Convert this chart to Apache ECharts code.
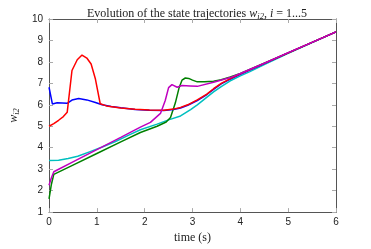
<!DOCTYPE html>
<html><head><meta charset="utf-8">
<script src="https://cdn.jsdelivr.net/npm/echarts@6/dist/echarts.min.js"></script>
<style>html,body{margin:0;padding:0;background:#fff}#c{width:371px;height:249px}</style>
</head><body><div id="c"></div>
<script>
const xTicks = [0,1,2,3,4,5,6];
const yTicks = [1,2,3,4,5,6,7,8,9,10];
const seriesNames = ['w12','w22','w32','w42','w52'];
const redData = [[0,5.0],[0.1,5.12],[0.2,5.28],[0.3,5.45],[0.38,5.65],[0.48,7.6],[0.59,8.1],[0.69,8.32],[0.79,8.18],[0.88,7.9],[0.97,7.2],[1.07,6.05],[1.2,5.95],[1.5,5.85],[1.8,5.79],[2.1,5.76],[2.4,5.75],[2.6,5.8],[2.75,5.88],[2.9,6.0],[3.1,6.23],[3.3,6.5],[3.44,6.75],[3.6,7.0],[3.79,7.22],[4.0,7.44],[4.5,7.93],[5,8.42],[5.5,8.91],[6,9.4]];
const blueData = [[0,6.82],[0.07,6.04],[0.17,6.1],[0.38,6.07],[0.48,6.22],[0.62,6.29],[0.79,6.23],[0.97,6.11],[1.11,6.0],[1.3,5.92],[1.5,5.86],[1.8,5.78],[2.1,5.75],[2.4,5.74],[2.6,5.78],[2.75,5.85],[2.9,5.98],[3.1,6.2],[3.3,6.48],[3.44,6.72],[3.6,6.98],[3.79,7.2],[4.0,7.42],[4.5,7.92],[5,8.42],[5.5,8.91],[6,9.4]];
const greenData = [[0,1.62],[0.05,2.3],[0.1,2.76],[0.5,3.19],[1.0,3.73],[1.5,4.27],[1.91,4.71],[2.26,5.0],[2.45,5.2],[2.54,5.41],[2.64,6.08],[2.72,6.8],[2.78,7.15],[2.85,7.25],[2.92,7.23],[3.0,7.15],[3.1,7.07],[3.25,7.07],[3.44,7.1],[3.6,7.17],[3.79,7.3],[4.0,7.46],[4.5,7.94],[5,8.42],[5.5,8.91],[6,9.4]];
const magentaData = [[0,2.25],[0.05,2.6],[0.1,2.88],[0.5,3.34],[1.0,3.91],[1.5,4.48],[1.91,4.96],[2.12,5.18],[2.33,5.6],[2.43,6.2],[2.5,6.8],[2.57,6.94],[2.68,6.82],[2.78,6.9],[2.95,6.88],[3.1,6.86],[3.44,7.05],[3.79,7.27],[4.0,7.46],[4.5,7.94],[5,8.43],[5.5,8.91],[6,9.4]];
const cyanData = [[0,3.4],[0.2,3.42],[0.4,3.5],[0.6,3.6],[0.86,3.82],[1.1,4.02],[1.39,4.29],[1.7,4.62],[1.91,4.84],[2.26,5.1],[2.5,5.3],[2.75,5.48],[2.96,5.78],[3.1,6.0],[3.27,6.3],[3.44,6.6],[3.6,6.85],[3.79,7.12],[4.0,7.35],[4.2,7.55],[4.5,7.88],[5,8.4],[5.5,8.9],[6,9.4]];

const colors = ['#ff0000','#0000ff','#008000','#bf00bf','#00bfbf'];
const zOrder = [8,7,6,10,5];
const datasets = [redData, blueData, greenData, magentaData, cyanData];
const axisColor = '#555';
const serif = '"Liberation Serif","DejaVu Serif",serif';
const sans = '"Liberation Sans",Arial,sans-serif';

const chart = echarts.init(document.getElementById('c'));
const baseX = {type:'value', min:xTicks[0], max:xTicks[xTicks.length-1], interval:1,
  axisLine:{show:true, onZero:false, lineStyle:{color:axisColor,width:1}},
  axisTick:{show:true, inside:true, length:4, lineStyle:{color:'#aaa'}},
  splitLine:{show:false}};
const baseY = {type:'value', min:yTicks[0], max:yTicks[yTicks.length-1], interval:1,
  axisLine:{show:true, onZero:false, lineStyle:{color:axisColor,width:1}},
  axisTick:{show:true, inside:true, length:4, lineStyle:{color:'#aaa'}},
  splitLine:{show:false}};
chart.setOption({
  animation:false,
  title:{text:'{n|Evolution of the state trajectories }{it|w}{sub|i2}{n|, }{it|i}{n| = 1...5}',
    left:192, textAlign:'center', top:2,
    textStyle:{fontWeight:'normal', rich:{
      n:{fontFamily:serif,fontSize:12,fontWeight:'normal',color:'#222'},
      it:{fontFamily:serif,fontSize:12,fontStyle:'italic',fontWeight:'normal',color:'#222'},
      sub:{fontFamily:serif,fontSize:8.5,fontStyle:'italic',fontWeight:'normal',color:'#222',verticalAlign:'bottom',padding:[5,0,0,0]}
    }}},
  grid:{left:49,right:35,top:19,bottom:29},
  xAxis:[
    Object.assign({}, baseX, {position:'bottom', name:'time (s)', nameLocation:'middle', nameGap:17,
      nameTextStyle:{fontFamily:serif,fontSize:12,color:'#222'},
      axisLabel:{show:true, margin:5, fontFamily:sans, fontSize:10, color:'#222'}}),
    Object.assign({}, baseX, {position:'top', axisLabel:{show:false}})
  ],
  yAxis:[
    Object.assign({}, baseY, {position:'left', name:'{it|w}{sub|i2}', nameLocation:'middle', nameGap:17, nameRotate:90,
      nameTextStyle:{rich:{
        it:{fontFamily:serif,fontSize:12,fontStyle:'italic',color:'#222'},
        sub:{fontFamily:serif,fontSize:8.5,fontStyle:'italic',color:'#222',verticalAlign:'bottom',padding:[5,0,0,0]}
      }},
      axisLabel:{show:true, margin:6, fontFamily:sans, fontSize:10, color:'#222'}}),
    Object.assign({}, baseY, {position:'right', axisLabel:{show:false}})
  ],
  series: datasets.map((d,i)=>({
    name:seriesNames[i], type:'line', data:d, xAxisIndex:0, yAxisIndex:0,
    showSymbol:false, symbol:'none', smooth:false,
    lineStyle:{color:colors[i], width:1.5}, z:zOrder[i]
  }))
});
</script></body></html>
